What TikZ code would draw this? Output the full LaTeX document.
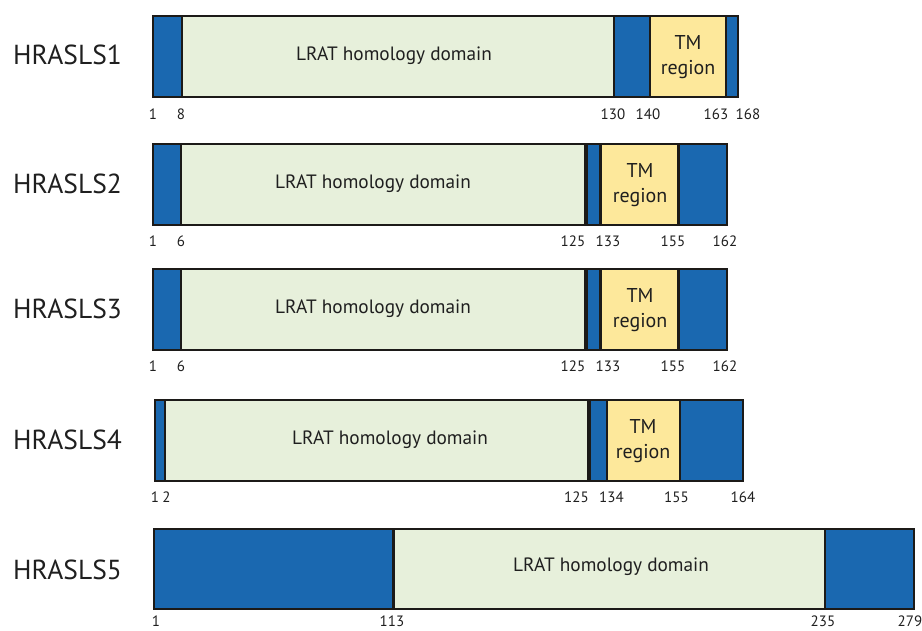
\documentclass[tikz,border=0pt]{standalone}
\usepackage{fontspec}
\setmainfont{PT Sans}
\definecolor{domblue}{RGB}{26,104,176}
\definecolor{lratgreen}{RGB}{231,240,219}
\definecolor{tmyellow}{RGB}{253,232,155}
\definecolor{edge}{RGB}{28,26,24}
\begin{document}
\begin{tikzpicture}[x=1pt,y=-1pt,
  seg/.style={draw=edge,line width=2pt},
  bluebox/.style={seg,fill=domblue},
  greenbox/.style={seg,fill=lratgreen},
  yellowbox/.style={seg,fill=tmyellow},
  rowname/.style={anchor=west,inner sep=0pt,font=\fontsize{27.5}{27.5}\selectfont,text=black!88},
  domtext/.style={inner sep=0pt,font=\fontsize{19.3}{19.3}\selectfont,text=black!88},
  tmtext/.style={inner sep=0pt,align=center,font=\fontsize{20}{25}\selectfont,text=black!88},
  posnum/.style={inner sep=0pt,font=\fontsize{15}{15}\selectfont,text=black!88}]
\useasboundingbox (0,0) rectangle (922,630);

% ---------- HRASLS1 ----------
\node[rowname] (name1) at (13,55) {HRASLS1};
\draw[bluebox]   (153,16) rectangle (182,97);
\draw[greenbox]  (182,16) rectangle (614,97);
\draw[bluebox]   (614,16) rectangle (650,97);
\draw[yellowbox] (650,16) rectangle (725.5,97);
\draw[bluebox]   (725.5,16) rectangle (738,97);
\node[domtext] (lrat1) at (394,56) {LRAT homology domain};
\node[tmtext] (tm1) at (688,57) {TM\\region};
\node[posnum] (p1a) at (153,114.3) {1};
\node[posnum] (p1b) at (181,114.3) {8};
\node[posnum] (p1c) at (613,114.3) {130};
\node[posnum] (p1d) at (648,114.3) {140};
\node[posnum] (p1e) at (716,114.3) {163};
\node[posnum] (p1f) at (748,114.3) {168};

% ---------- HRASLS2 ----------
\node[rowname] (name2) at (13,184) {HRASLS2};
\draw[bluebox]   (153,143.5) rectangle (181,225);
\draw[greenbox]  (181,143.5) rectangle (585,225);
\draw[bluebox]   (587,143.5) rectangle (600,225);
\draw[yellowbox] (601,143.5) rectangle (678,225);
\draw[bluebox]   (679,143.5) rectangle (727,225);
\node[domtext] (lrat2) at (373,184) {LRAT homology domain};
\node[tmtext] (tm2) at (640,185) {TM\\region};
\node[posnum] (p2a) at (153,241) {1};
\node[posnum] (p2b) at (181,241) {6};
\node[posnum] (p2c) at (573,241) {125};
\node[posnum] (p2d) at (608,241) {133};
\node[posnum] (p2e) at (673,241) {155};
\node[posnum] (p2f) at (725,241) {162};

% ---------- HRASLS3 ----------
\node[rowname] (name3) at (13,309) {HRASLS3};
\draw[bluebox]   (153,268.5) rectangle (181,350);
\draw[greenbox]  (181,268.5) rectangle (585,350);
\draw[bluebox]   (587,268.5) rectangle (600,350);
\draw[yellowbox] (601,268.5) rectangle (678,350);
\draw[bluebox]   (679,268.5) rectangle (727,350);
\node[domtext] (lrat3) at (373,309) {LRAT homology domain};
\node[tmtext] (tm3) at (640,310) {TM\\region};
\node[posnum] (p3a) at (153,366) {1};
\node[posnum] (p3b) at (181,366) {6};
\node[posnum] (p3c) at (573,366) {125};
\node[posnum] (p3d) at (608,366) {133};
\node[posnum] (p3e) at (673,366) {155};
\node[posnum] (p3f) at (725,366) {162};

% ---------- HRASLS4 ----------
\node[rowname] (name4) at (13,440) {HRASLS4};
\draw[bluebox]   (154.5,399.5) rectangle (165,481);
\draw[greenbox]  (165,399.5) rectangle (588,481);
\draw[bluebox]   (590,399.5) rectangle (607,481);
\draw[yellowbox] (607,399.5) rectangle (680,481);
\draw[bluebox]   (680,399.5) rectangle (743,481);
\node[domtext] (lrat4) at (390,440) {LRAT homology domain};
\node[tmtext] (tm4) at (643,441) {TM\\region};
\node[posnum] (p4a) at (155,497) {1};
\node[posnum] (p4b) at (166.5,497) {2};
\node[posnum] (p4c) at (576.5,497) {125};
\node[posnum] (p4d) at (611.5,497) {134};
\node[posnum] (p4e) at (676.5,497) {155};
\node[posnum] (p4f) at (743,497) {164};

% ---------- HRASLS5 ----------
\node[rowname] (name5) at (13,570) {HRASLS5};
\draw[bluebox]   (154,529) rectangle (392.5,609);
\draw[greenbox]  (394,529) rectangle (825,609);
\draw[bluebox]   (825,529) rectangle (914,609);
\node[domtext] (lrat5) at (611,567) {LRAT homology domain};
\node[posnum] (p5a) at (156,621.5) {1};
\node[posnum] (p5b) at (392,621.5) {113};
\node[posnum] (p5c) at (823,621.5) {235};
\node[posnum] (p5d) at (910,621.5) {279};
\end{tikzpicture}
\end{document}
